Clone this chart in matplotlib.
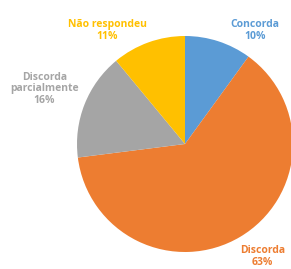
import matplotlib
matplotlib.use("Agg")
import matplotlib.pyplot as plt

categories = ["Concorda", "Discorda", "Discorda\nparcialmente", "Não respondeu"]
values = [10, 63, 16, 11]
colors = ["#5B9BD5", "#ED7D31", "#A5A5A5", "#FFC000"]
label_colors = ["#5B9BD5", "#ED7D31", "#A5A5A5", "#FFC000"]
label_pos = [(0.65, 1.05), (0.72, -1.04), (-1.30, 0.51), (-0.72, 1.05)]

W, H = 291, 269
fig = plt.figure(figsize=(W / 100, H / 100), dpi=100)
cx, cy, r = 185, 144, 108
ax = fig.add_axes([(cx - r) / W, (H - cy - r) / H, 2 * r / W, 2 * r / H])
wedges, _ = ax.pie(values, colors=colors, startangle=90, counterclock=False,
                   radius=1.0, wedgeprops=dict(linewidth=0))
ax.set_xlim(-1, 1)
ax.set_ylim(-1, 1)
ax.set_aspect("equal")
ax.axis("off")
for w in wedges:
    w.set_clip_on(False)

for cat, v, (x, y), c in zip(categories, values, label_pos, label_colors):
    ax.text(x, y, f"{cat}\n{v}%", ha="center", va="center", color=c,
            fontsize=7.5, fontweight="bold", family="Open Sans",
            linespacing=1.05, clip_on=False)

fig.savefig("out.png", dpi=100)
